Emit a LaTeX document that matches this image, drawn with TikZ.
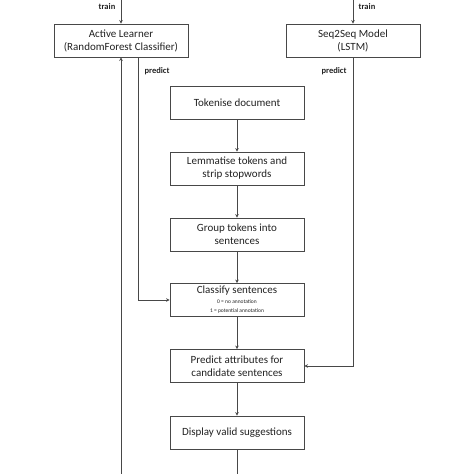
\documentclass[tikz,border=0pt]{standalone}
\usepackage{fontspec}
\setmainfont{Carlito}
\usetikzlibrary{arrows.meta}
\definecolor{ln}{HTML}{484848}
\definecolor{tx}{HTML}{222222}
\begin{document}
\begin{tikzpicture}[x=1pt,y=-1pt,
  box/.style={draw=ln,line width=0.9pt,minimum width=134pt,minimum height=33pt,align=center,font=\fontsize{11}{13}\selectfont,text=tx,inner sep=1pt},
  conn/.style={draw=ln,line width=0.9pt,-{Stealth[length=3.5pt,width=3.5pt]}},
  lbl/.style={font=\fontsize{8.5}{10}\selectfont\bfseries,text=tx,inner sep=0pt}]
\useasboundingbox (0,0) rectangle (474,474);
\node[box] (al) at (121,40.5) {Active Learner\\(RandomForest Classifier)};
\node[box] (s2s) at (353,40.5) {Seq2Seq Model\\(LSTM)};
\node[box] (tok) at (237,102.5) {Tokenise document};
\node[box] (lem) at (237,168.5) {Lemmatise tokens and\\strip stopwords};
\node[box] (grp) at (237,234.5) {Group tokens into\\sentences};
\node[box] (cls) at (237,300) {Classify sentences\\[-3pt]{\fontsize{5.5}{6.5}\selectfont 0 = no annotation}\\[-4pt]{\fontsize{5.5}{6.5}\selectfont 1 = potential annotation}};
\node[box] (pre) at (237,366) {Predict attributes for\\candidate sentences};
\node[box] (dis) at (237,432.5) {Display valid suggestions};
\coordinate (t1) at (121,0);
\coordinate (t2) at (353,0);
\coordinate (b1) at (121,474);
\coordinate (b2) at (237,474);
\coordinate (p1) at (138,57);
\draw[conn] (t1) -- (al.north);
\draw[conn] (t2) -- (s2s.north);
\node[lbl] (tr1) at (107,7) {train};
\node[lbl] (tr2) at (367,7) {train};
\node[lbl] (pr1) at (157,71) {predict};
\node[lbl] (pr2) at (334,71) {predict};
\draw[conn] (tok) -- (lem);
\draw[conn] (lem) -- (grp);
\draw[conn] (grp) -- (cls);
\draw[conn] (cls) -- (pre);
\draw[conn] (pre) -- (dis);
\draw[draw=ln,line width=0.9pt] (dis.south) -- (b2);
\draw[conn] (b1) -- (al.south);
\draw[conn] (p1) |- (cls.west);
\draw[conn] (s2s.south) |- (pre.east);
\end{tikzpicture}
\end{document}
